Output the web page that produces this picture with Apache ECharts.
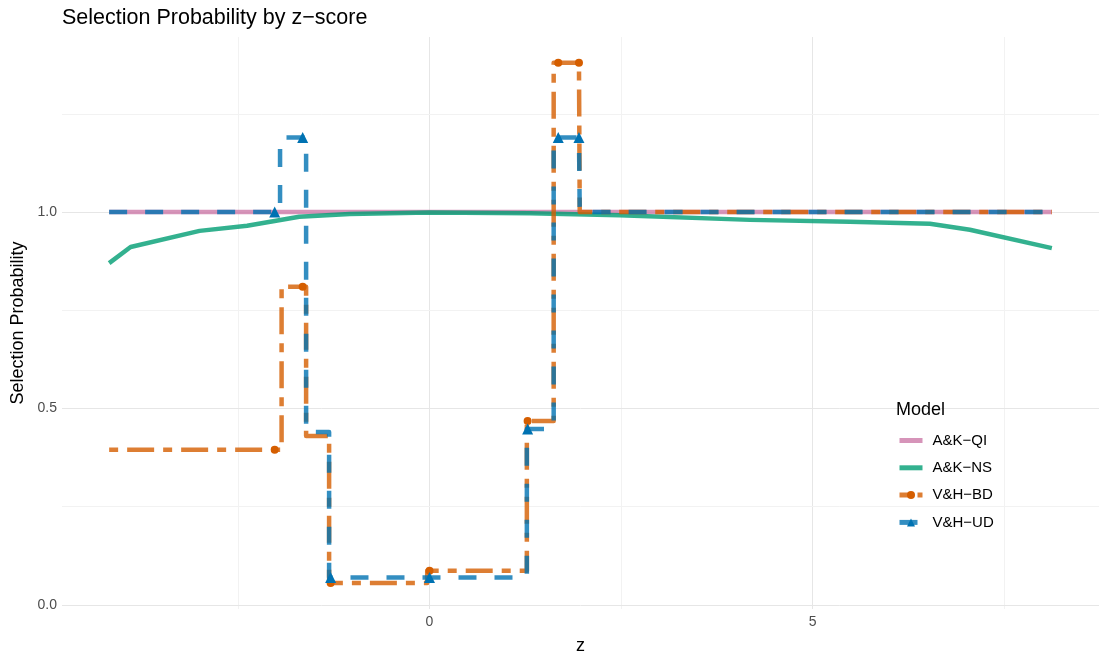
<!DOCTYPE html>
<html>
<head>
<meta charset="utf-8">
<script src="https://cdn.jsdelivr.net/npm/echarts@6/dist/echarts.min.js"></script>
<style>html,body{margin:0;padding:0;background:#fff}#c{width:1099px;height:655px}</style>
</head>
<body>
<div id="c"></div>
<script>
// ---- data ----
const qiZ = [-4.18, 8.12];
const qiP = [1.0, 1.0];

const nsZ = [-4.18, -3.90, -3.0, -2.38, -1.70, -1.04, 0, 1.31, 2.48, 4.18, 5.48, 6.53, 7.05, 8.12];
const nsP = [0.870, 0.911, 0.952, 0.965, 0.988, 0.995, 0.999, 0.997, 0.992, 0.980, 0.975, 0.970, 0.955, 0.908];

const bdZ = [-4.18, -2.02, -1.93, -1.655, -1.61, -1.31, -1.29, -0.03, 0, 1.27, 1.28, 1.62, 1.68, 1.95, 1.96, 8.12];
const bdP = [0.395, 0.395, 0.81, 0.81, 0.43, 0.056, 0.056, 0.087, 0.087, 0.468, 0.468, 1.38, 1.38, 1.38, 1.0, 1.0];
const bdMarks = [1, 3, 6, 8, 10, 12, 13];

const udZ = [-4.18, -2.02, -1.95, -1.655, -1.61, -1.31, -1.29, 0, 1.27, 1.28, 1.62, 1.68, 1.95, 1.96, 8.12];
const udP = [1.0, 1.0, 1.19, 1.19, 0.44, 0.07, 0.07, 0.07, 0.448, 0.448, 1.19, 1.19, 1.19, 1.0, 1.0];
const udMarks = [1, 3, 6, 7, 9, 11, 12];

const xTicks = [0, 5];
const yTicks = [0, 0.5, 1.0];
const xMajor = [0, 5];
const xMinor = [-2.5, 2.5, 7.5];
const yMajor = [0, 0.5, 1.0];
const yMinor = [0.25, 0.75, 1.25];

const names = ['A&K\u2212QI', 'A&K\u2212NS', 'V&H\u2212BD', 'V&H\u2212UD'];

// ---- build ----
const pair = (zs, ps) => zs.map((z, i) => [z, ps[i]]);
const marked = (zs, ps, marks) => zs.map((z, i) =>
  marks.includes(i) ? { value: [z, ps[i]] } : { value: [z, ps[i]], symbol: 'none' });

const FONT = '"Liberation Sans", Arial, Helvetica, sans-serif';
const gridLine = (c, w) => ({ color: c, width: w, type: 'solid' });

const markData = []
  .concat(xMajor.map(v => ({ xAxis: v, lineStyle: gridLine('#e6e6e6', 1) })))
  .concat(xMinor.map(v => ({ xAxis: v, lineStyle: gridLine('#f2f2f2', 1) })))
  .concat(yMajor.map(v => ({ yAxis: v, lineStyle: gridLine('#e6e6e6', 1) })))
  .concat(yMinor.map(v => ({ yAxis: v, lineStyle: gridLine('#f2f2f2', 1) })));

const BAR = 'path://M0,0L23,0L23,5L0,5Z';

const chart = echarts.init(document.getElementById('c'), null, { renderer: 'canvas' });
chart.setOption({
  animation: false,
  backgroundColor: '#ffffff',
  textStyle: { fontFamily: FONT },
  title: [
    { text: 'Selection Probability by z\u2212score', left: 62, top: 7, padding: 0,
      textStyle: { fontFamily: FONT, fontSize: 21.5, fontWeight: 'normal', color: '#000' } },
    { text: 'Model', left: 896, top: 401, padding: 0,
      textStyle: { fontFamily: FONT, fontSize: 18, fontWeight: 'normal', color: '#000' } }
  ],
  grid: { left: 62, right: 0, top: 37, bottom: 46, containLabel: false, outerBoundsMode: 'none' },
  legend: {
    orient: 'vertical', left: 897, top: 433, padding: 0,
    itemWidth: 23, itemHeight: 10, itemGap: 12.3,
    symbolKeepAspect: true,
    data: [
      { name: names[0], icon: BAR, itemStyle: { color: 'rgba(204,121,167,0.8)' } },
      { name: names[1], icon: BAR, itemStyle: { color: 'rgba(0,158,115,0.8)' } },
      { name: names[2] },
      { name: names[3] }
    ],
    lineStyle: { width: 5 },
    textStyle: { fontFamily: FONT, fontSize: 15, color: '#000', padding: [0, 0, 0, 5] },
    selectedMode: false
  },
  xAxis: {
    type: 'value', min: -4.795, max: 8.735,
    name: 'z', nameLocation: 'middle', nameGap: 28,
    nameTextStyle: { fontFamily: FONT, fontSize: 18, color: '#000' },
    axisLine: { show: false }, axisTick: { show: false },
    splitLine: { show: false },
    axisLabel: { customValues: xTicks, margin: 6, fontFamily: FONT, fontSize: 14, color: '#4d4d4d',
      formatter: v => String(v) }
  },
  yAxis: {
    type: 'value', min: -0.0105, max: 1.4455,
    name: 'Selection Probability', nameLocation: 'middle', nameGap: 35, nameRotate: 90,
    nameTextStyle: { fontFamily: FONT, fontSize: 18, color: '#000' },
    axisLine: { show: false }, axisTick: { show: false },
    splitLine: { show: false },
    axisLabel: { customValues: yTicks, margin: 5, fontFamily: FONT, fontSize: 14, color: '#4d4d4d',
      formatter: v => v.toFixed(1) }
  },
  series: [
    {
      name: '__grid', type: 'line', data: pair(qiZ, qiP), z: 0, silent: true,
      symbol: 'none', lineStyle: { opacity: 0 },
      markLine: { silent: true, z: 0, symbol: ['none', 'none'], label: { show: false },
        emphasis: { disabled: true }, animation: false, data: markData }
    },
    {
      name: names[0], type: 'line', data: pair(qiZ, qiP), z: 2,
      symbol: 'none', color: '#CC79A7',
      lineStyle: { color: '#CC79A7', width: 4.5, opacity: 0.8 }
    },
    {
      name: names[1], type: 'line', data: pair(nsZ, nsP), z: 3,
      symbol: 'none', color: '#009E73',
      lineStyle: { color: '#009E73', width: 4.5, opacity: 0.8, join: 'round' }
    },
    {
      name: names[2], type: 'line', step: 'end', data: marked(bdZ, bdP, bdMarks), z: 4,
      symbol: 'circle', symbolSize: 8, showSymbol: true, color: '#D55E00',
      itemStyle: { color: '#D55E00', opacity: 1 },
      lineStyle: { color: '#D55E00', width: 4.5, opacity: 0.8, type: [9, 9, 27, 9], join: 'round' }
    },
    {
      name: names[3], type: 'line', step: 'end', data: marked(udZ, udP, udMarks), z: 5,
      symbol: 'triangle', symbolSize: 11, showSymbol: true, color: '#0072B2',
      itemStyle: { color: '#0072B2', opacity: 1 },
      lineStyle: { color: '#0072B2', width: 4.5, opacity: 0.8, type: [18, 18], join: 'round' }
    }
  ]
});
</script>
</body>
</html>
